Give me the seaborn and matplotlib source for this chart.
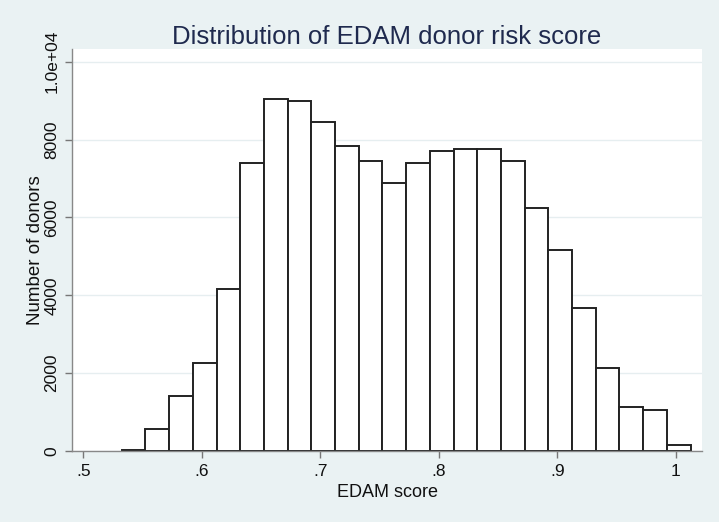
import matplotlib
matplotlib.use("Agg")
import matplotlib.pyplot as plt
import seaborn as sns
import numpy as np
import pandas as pd

# ---- data ----
bin_start = 0.5325
bin_width = 0.02
counts = [35, 575, 1420, 2250, 4170, 7410, 9045, 8980, 8450, 7830, 7460, 6880,
          7410, 7695, 7770, 7755, 7445, 6245, 5155, 3665, 2125, 1130, 1060, 155]
x_ticks = [0.5, 0.6, 0.7, 0.8, 0.9, 1.0]
x_tick_labels = [".5", ".6", ".7", ".8", ".9", "1"]
y_ticks = [0, 2000, 4000, 6000, 8000, 10000]
y_tick_labels = ["0", "2000", "4000", "6000", "8000", "1.0e+04"]
title = "Distribution of EDAM donor risk score"
x_label = "EDAM score"
y_label = "Number of donors"

n = len(counts)
edges = [float(bin_start + bin_width * i) for i in range(n + 1)]
centers = [(edges[i] + edges[i + 1]) / 2 for i in range(n)]
df = pd.DataFrame({"score": centers, "count": counts})

sns.set_theme(style="white")
plt.rcParams["font.family"] = ["Liberation Sans", "DejaVu Sans"]

bg = "#EAF2F3"
fig = plt.figure(figsize=(7.19, 5.22), dpi=100, facecolor=bg)
ax = fig.add_axes([0.1001, 0.136, 0.8763, 0.7696])
ax.set_facecolor("white")

for yt in y_ticks:
    ax.axhline(yt, color="#E6EEF0", lw=1.0, zorder=0)

sns.histplot(x=df["score"], weights=df["count"], bins=edges, ax=ax,
             stat="count", color="white", edgecolor="#222222", linewidth=1.4,
             alpha=1.0, zorder=2)

ax.set_xlim(0.4905, 1.0222)
ax.set_ylim(0, 10320)
ax.set_xticks(x_ticks)
ax.set_xticklabels(x_tick_labels, fontsize=12.5, color="#111111")
ax.set_yticks(y_ticks)
ax.set_yticklabels(y_tick_labels, fontsize=12.5, color="#111111",
                   rotation=90, va="center")
ax.tick_params(axis="both", direction="out", length=5, width=1, color="#777777",
               pad=4, bottom=True, left=True)
for s in ["top", "right"]:
    ax.spines[s].set_visible(False)
for s in ["left", "bottom"]:
    ax.spines[s].set_color("#888888")
    ax.spines[s].set_linewidth(1.0)

ax.set_xlabel(x_label, fontsize=13, color="#111111", labelpad=4)
ax.set_ylabel(y_label, fontsize=13.5, color="#111111", labelpad=0)
ax.set_title(title, fontsize=18.5, color="#1F2A4E", pad=4)

fig.savefig("out.png", dpi=100, facecolor=bg)
